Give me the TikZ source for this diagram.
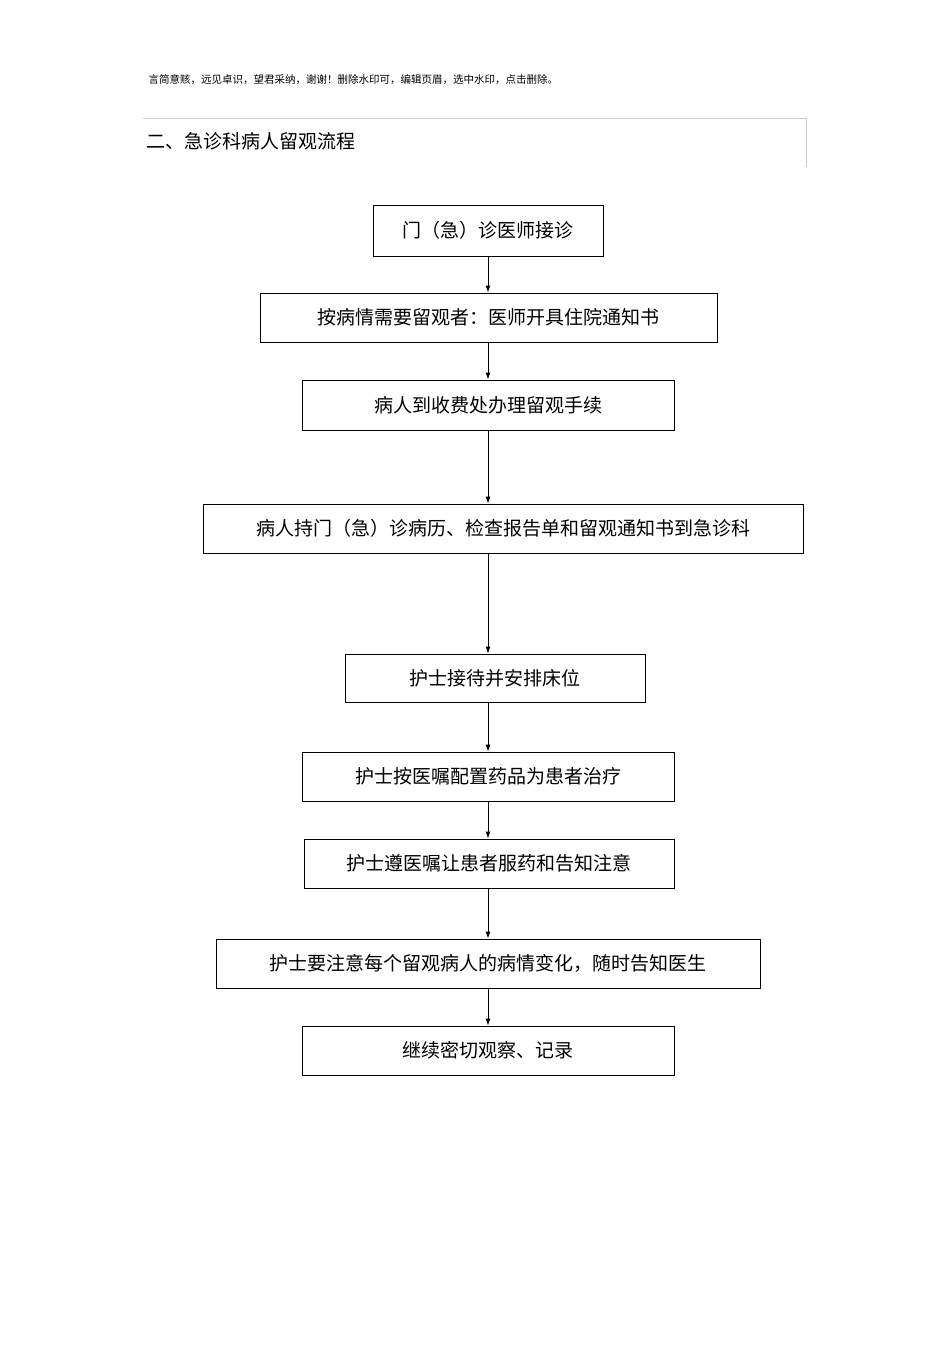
\documentclass[tikz,border=0pt]{standalone}
\usepackage{fontspec}
\setmainfont{Noto Sans CJK SC}
\usetikzlibrary{arrows.meta}
\begin{document}
\begin{tikzpicture}[x=1pt,y=-1pt,
  box/.style={draw,line width=0.9pt,inner sep=0pt,font=\fontsize{19}{19}\selectfont},
  arr/.style={line width=0.9pt,-{Latex[length=7pt,width=5pt]}}]
\useasboundingbox (0,0) rectangle (950,1345);
\node[anchor=west,font=\fontsize{10.5}{11}\selectfont] (hd) at (145,80) {言简意赅，远见卓识，望君采纳，谢谢！删除水印可，编辑页眉，选中水印，点击删除。};
\draw[gray!40,line width=0.6pt] (143,118) -- (806,118) -- (806,167);
\node[anchor=west,font=\fontsize{19}{19}\selectfont] (title) at (143,141) {二、急诊科病人留观流程};
\newcommand{\bx}[6]{\node[box,minimum width=#4-#2,minimum height=#5-#3] (#1) at ({(#2+#4)/2},{(#3+#5)/2}) {#6};}
\bx{b1}{373}{205}{603}{256}{门（急）诊医师接诊}
\bx{b2}{260}{293}{717}{342}{按病情需要留观者：医师开具住院通知书}
\bx{b3}{302}{380}{674}{430}{病人到收费处办理留观手续}
\bx{b4}{203}{504}{803}{553}{病人持门（急）诊病历、检查报告单和留观通知书到急诊科}
\bx{b5}{345}{654}{645}{702}{护士接待并安排床位}
\bx{b6}{302}{752}{674}{801}{护士按医嘱配置药品为患者治疗}
\bx{b7}{304}{839}{674}{888}{护士遵医嘱让患者服药和告知注意}
\bx{b8}{216}{939}{760}{988}{护士要注意每个留观病人的病情变化，随时告知医生}
\bx{b9}{302}{1026}{674}{1075}{继续密切观察、记录}
\coordinate (ax) at (488,0);
\foreach \a/\b in {b1/b2,b2/b3,b3/b4,b4/b5,b5/b6,b6/b7,b7/b8,b8/b9}
  \draw[arr] (\a.south -| ax) -- (\b.north -| ax);
\end{tikzpicture}
\end{document}
